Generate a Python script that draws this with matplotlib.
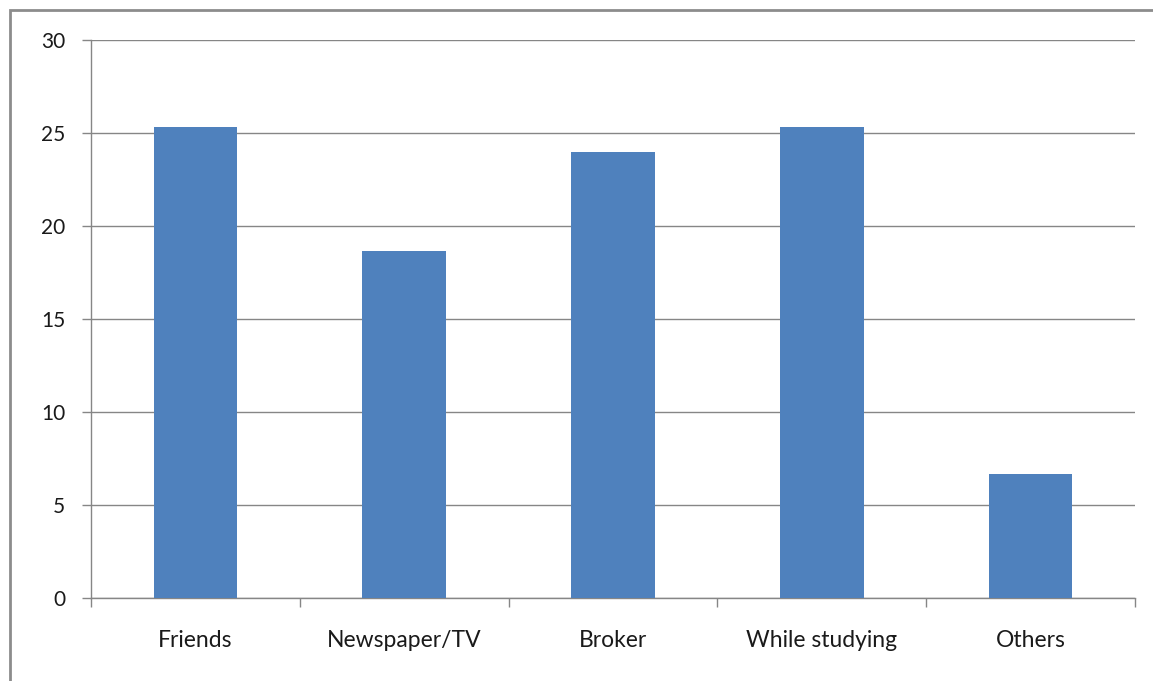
import matplotlib.pyplot as plt
from matplotlib.patches import Rectangle

# Data
sources = ['Friends', 'Newspaper/TV', 'Broker', 'While studying', 'Others']
percent = [25.33, 18.67, 24.0, 25.33, 6.67]
y_ticks = [0, 5, 10, 15, 20, 25, 30]

plt.rcParams['font.family'] = ['Lato', 'DejaVu Sans']

fig = plt.figure(figsize=(11.53, 6.81), dpi=100)
ax = fig.add_axes([0.0789, 0.1219, 0.9055, 0.8194])

# outer chart frame
fig.patches.append(Rectangle((10 / 1153, -0.05), 1.1, 1 - 10 / 681 + 0.05,
                             transform=fig.transFigure, fill=False,
                             edgecolor='#8c8c8c', linewidth=2))

x = list(range(len(sources)))
ax.bar(x, percent, width=0.4, color='#4f81bd', zorder=3)

ax.set_xlim(-0.5, len(sources) - 0.5)
ax.set_ylim(0, 30)
ax.set_yticks(y_ticks)
ax.yaxis.grid(True, color='#868686', linewidth=1, zorder=0)

ax.set_xticks(x)
ax.set_xticklabels(sources)
ax.set_xticks([i - 0.5 for i in range(len(sources) + 1)], minor=True)
ax.tick_params(axis='x', which='major', length=0, pad=23, labelsize=16.5,
               labelcolor='#1a1a1a')
ax.tick_params(axis='x', which='minor', length=6.5, color='#868686', width=1)
ax.tick_params(axis='y', length=6.5, color='#868686', width=1, labelsize=15,
               pad=12, labelcolor='#1a1a1a')

for side in ['top', 'right']:
    ax.spines[side].set_visible(False)
for side in ['left', 'bottom']:
    ax.spines[side].set_color('#868686')
    ax.spines[side].set_linewidth(1)

fig.savefig('out.png', dpi=100)
